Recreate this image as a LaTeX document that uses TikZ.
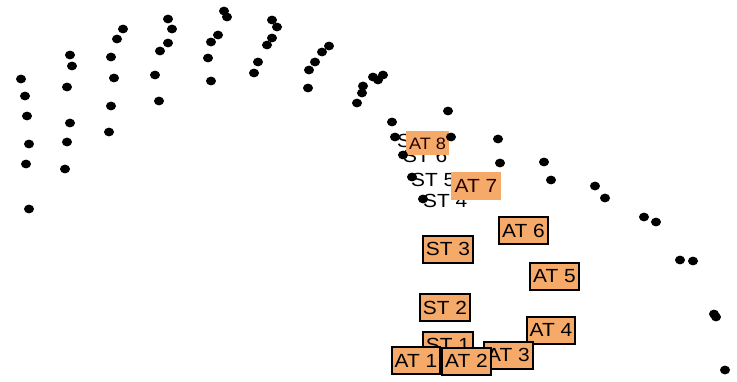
\documentclass[tikz,border=0pt]{standalone}
\usepackage{fontspec}
\newfontfamily\lblfont[FakeStretch=1.1]{Liberation Sans}
\definecolor{lblorange}{RGB}{246,170,106}
\begin{document}
\begin{tikzpicture}[
  x=1pt, y=-1pt,
  atbox/.style={draw=black, line width=2pt, fill=lblorange, inner xsep=3pt,
                inner ysep=0pt, minimum height=27pt, text height=13.5pt, text depth=0pt,
                font=\lblfont\fontsize{19}{21}\selectfont},
  atplain/.style={fill=lblorange, inner xsep=4pt, inner ysep=0pt, minimum height=28pt,
                  text height=13.5pt, text depth=0pt, text=black!85!red,
                  font=\lblfont\fontsize{19}{21}\selectfont},
  stlbl/.style={anchor=west, inner sep=0pt, text height=13.5pt, text depth=0pt,
                font=\lblfont\fontsize{19}{21}\selectfont},
  dot/.style={fill=black}
]
\useasboundingbox[fill=white] (0,0) rectangle (737,381);

% plain ST labels
\node[stlbl] (st7) at (397,141) {ST 7};
\node[stlbl] (st6) at (403,156) {ST 6};
\node[stlbl] (st5) at (411,180) {ST 5};
\node[stlbl] (st4) at (423,201) {ST 4};

% filled labels, no frame
\node[atplain, minimum height=24pt, inner xsep=3pt, text height=12pt,
      font=\lblfont\fontsize{16.5}{19}\selectfont] (at8) at (427.5,143) {AT 8};
\node[atplain] (at7) at (476,186) {AT 7};

% framed labels
\node[atbox] (at6) at (523.5,230.5) {AT 6};
\node[atbox] (st3) at (448,249)     {ST 3};
\node[atbox] (at5) at (554.5,276)   {AT 5};
\node[atbox] (st2) at (445,307.5)   {ST 2};
\node[atbox] (at4) at (551,330)     {AT 4};
\node[atbox] (st1) at (448,345)     {ST 1};
\node[atbox] (at3) at (508.5,355)   {AT 3};
\node[atbox] (at1) at (416,360.5)   {AT 1};
\node[atbox] (at2) at (466.5,361)   {AT 2};

% dots
\foreach \px/\py in {21/79, 25/96, 27/116, 29/144, 26/164, 29/209,
                     70/55, 72/66, 67/87, 70/123, 67/142, 65/169,
                     123/29, 117/39, 111/57, 114/78, 111/106, 109/132,
                     168/19, 172/29, 168/43, 160/51, 155/75, 159/101,
                     224/11, 227/17, 218/35, 211/42, 208/58, 211/81,
                     272/20, 277/27, 272/38, 267/45, 258/62, 254/73,
                     329/46, 322/52, 315/62, 309/70, 308/88,
                     383/75, 378/80, 373/77, 363/86, 362/93, 357/103,
                     392/122, 448/111, 395/137, 451/137, 403/155, 412/177, 423/199,
                     498/139, 500/163, 544/162, 551/180, 595/186, 605/198,
                     644/217, 656/222, 680/260, 693/261, 714/314, 716/317, 725/370}
  \fill[dot] (\px,\py) ellipse (5 and 4.4);

\end{tikzpicture}
\end{document}
